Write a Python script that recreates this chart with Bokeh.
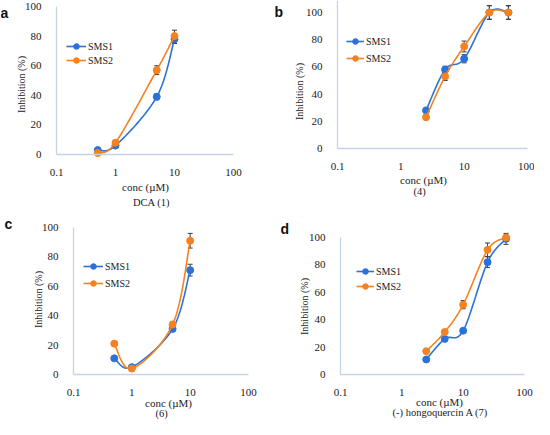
import numpy as np
from bokeh.plotting import figure
from bokeh.layouts import gridplot
from bokeh.models import (Range1d, FixedTicker, CustomJSTickFormatter, Label, Legend, LegendItem,
                          Whisker, TeeHead, ColumnDataSource)
from bokeh.embed import file_html
from bokeh.resources import INLINE

# ---------------- data ----------------
conc_a = [0.5, 1, 5, 10]
sms1_a = [3, 6, 39, 78]
sms2_a = [1, 8, 57, 80]
err1_a = [0.5, 0.8, 2, 3]
err2_a = [0.5, 1, 3, 4]

conc_b = [2.5, 5, 10, 25, 50]
sms1_b = [28, 58, 66, 100, 100]
sms2_b = [23, 53, 75, 100, 100]
err1_b = [1.5, 2.5, 3, 5, 5]
err2_b = [1, 3, 4, 5, 5]

conc_c = [0.5, 1, 5, 10]
sms1_c = [11, 5, 31, 71]
sms2_c = [21, 4, 34, 91]
err1_c = [1, 1, 1, 4]
err2_c = [1, 1, 1.5, 5]

conc_d = [2.5, 5, 10, 25, 50]
sms1_d = [11, 26, 32, 82, 99]
sms2_d = [17, 31, 51, 91, 100]
err1_d = [1, 1, 1, 4, 4]
err2_d = [1, 1, 3, 5, 1]

x_ticks = [0.1, 1, 10, 100]
y_ticks = [0, 20, 40, 60, 80, 100]
series_names = ["SMS1", "SMS2"]
panel_letters = ["a", "b", "c", "d"]
compound_labels = ["DCA (1)", "(4)", "(6)", "(-) hongoquercin A (7)"]

BLUE = "#2a72d8"
ORANGE = "#f58220"
AXIS = "#c5d3e6"
ERR = "#3a3f48"
TXT = "#1a1a1a"
SERIF = "Liberation Serif"


def smooth(xs, ys, su, sv, n=24):
    """Excel-like smoothed line (Catmull-Rom Bezier) computed in screen-like space."""
    u = np.log10(np.array(xs, float)) * su
    v = np.array(ys, float) * sv
    pts = np.column_stack([u, v])
    out = []
    m = len(pts)
    for i in range(m - 1):
        p0 = pts[i - 1] if i > 0 else pts[i]
        p1 = pts[i]
        p2 = pts[i + 1]
        p3 = pts[i + 2] if i + 2 < m else pts[i + 1]
        c1 = p1 + (p2 - p0) / 6.0
        c2 = p2 - (p3 - p1) / 6.0
        t = np.linspace(0, 1, n)[:, None]
        seg = ((1 - t) ** 3) * p1 + 3 * ((1 - t) ** 2) * t * c1 + 3 * (1 - t) * t ** 2 * c2 + t ** 3 * p2
        if i > 0:
            seg = seg[1:]
        out.append(seg)
    arr = np.vstack(out)
    return list(10 ** (arr[:, 0] / su)), list(arr[:, 1] / sv)


def make_panel(cfg, conc, s1, s2, e1, e2, letter, compound):
    W, H = cfg["W"], cfg["H"]
    dx, dy = cfg["dx"], cfg["dy"]
    axL, axT, axR, axB = cfg["axes"]          # reference px of x=0.1, y=100, x=100, y=0
    axL += dx; axR += dx; axT += dy; axB += dy
    dec = (axR - axL) / 3.0                    # px per decade
    ppu = (axB - axT) / 100.0                  # px per y unit
    x0 = 10 ** (-1 - axL / dec)
    x1 = 10 ** (-1 + (W - axL) / dec)
    y0 = -(H - axB) / ppu
    y1 = axB / ppu
    p = figure(width=W, height=H, x_axis_type="log", output_backend="svg", toolbar_location=None,
               x_range=Range1d(x0, x1), y_range=Range1d(y0, y1),
               min_border_left=0, min_border_right=0, min_border_top=0, min_border_bottom=0)
    p.outline_line_color = None
    p.grid.visible = False
    p.background_fill_color = "white"
    p.xaxis.fixed_location = 0
    p.yaxis.fixed_location = 0.1
    p.xaxis.bounds = (0.1, 100)
    p.yaxis.bounds = (0, cfg["ytop"])
    for ax in (p.xaxis[0], p.yaxis[0]):
        ax.axis_line_color = AXIS
        ax.axis_line_width = 1.3
        ax.major_tick_line_color = None
        ax.minor_tick_line_color = None
        ax.major_label_text_font = SERIF
        ax.major_label_text_font_size = "11px"
        ax.major_label_text_color = TXT
    p.xaxis.ticker = FixedTicker(ticks=x_ticks)
    p.xaxis.formatter = CustomJSTickFormatter(code="return String(tick);")
    p.xaxis.major_label_standoff = 8
    p.yaxis.ticker = FixedTicker(ticks=y_ticks)
    p.yaxis.major_label_standoff = 9

    def to_data(rx, ry):
        lx, ly = rx + dx, ry + dy
        return 10 ** (-1 + (lx - axL) / dec), (axB - ly) / ppu

    renderers = []
    for ys, es, col in ((s1, e1, BLUE), (s2, e2, ORANGE)):
        sx, sy = smooth(conc, ys, dec, ppu)
        lr = p.line(sx, sy, line_color=col, line_width=1.6)
        sr = p.scatter(conc, ys, size=7, fill_color=col, line_color=col, marker="circle")
        src = ColumnDataSource(dict(x=conc, lo=[a - b for a, b in zip(ys, es)], hi=[a + b for a, b in zip(ys, es)]))
        w = Whisker(base="x", lower="lo", upper="hi", source=src, line_color=ERR, line_width=1,
                    upper_head=TeeHead(size=5, line_color=ERR, line_width=1),
                    lower_head=TeeHead(size=5, line_color=ERR, line_width=1))
        p.add_layout(w)
        renderers.append((lr, sr))

    gl, gbot, gw, gsp = cfg["legend"]   # glyph left (ref px), legend bottom (ref px), glyph width, spacing
    legend = Legend(items=[LegendItem(label=series_names[i], renderers=list(renderers[i])) for i in range(2)],
                    location=(gl + dx, H - (gbot + dy)), padding=0, margin=0, spacing=gsp,
                    glyph_width=gw, glyph_height=14, label_height=14, label_standoff=2,
                    border_line_color=None, background_fill_alpha=0,
                    label_text_font=SERIF, label_text_font_size="10px", label_text_color=TXT)
    p.add_layout(legend)

    lx, ly = to_data(*cfg["letter"])
    p.add_layout(Label(x=lx, y=ly, text=letter, text_font="Liberation Sans", text_font_style="bold",
                       text_font_size="14px", text_align="left", text_baseline="middle", text_color="#111111"))
    yx, yy = to_data(*cfg["ylabel"])
    p.add_layout(Label(x=yx, y=yy, text="Inhibition (%)", angle=np.pi / 2, text_font=SERIF,
                       text_font_size="10px", text_align="center", text_baseline="middle", text_color=TXT))
    cx, cy = to_data(*cfg["xlabel"])
    p.add_layout(Label(x=cx, y=cy, text="conc (\u00b5M)", text_font=SERIF,
                       text_font_size="11px", text_align="center", text_baseline="middle", text_color=TXT))
    kx, ky = to_data(*cfg["compound"])
    p.add_layout(Label(x=kx, y=ky, text=compound, text_font=SERIF,
                       text_font_size="10.5px", text_align="center", text_baseline="middle", text_color=TXT))
    return p


# layout configs, in reference pixels; dx/dy shift into each figure's own space
cfg_a = dict(W=267, H=209, dx=-4, dy=-4, axes=(60, 10, 237, 158), ytop=100,
             legend=(70, 71, 20, 0), letter=(4, 16), ylabel=(25, 88), xlabel=(149, 190), compound=(155, 206))
cfg_b = dict(W=267, H=209, dx=-278, dy=-4, axes=(348, 16, 538, 152), ytop=110,
             legend=(357, 69, 18, 3), letter=(285, 15), ylabel=(310, 95), xlabel=(434, 183), compound=(430, 195))
cfg_c = dict(W=267, H=210, dx=-4, dy=-221, axes=(77, 239, 252, 386), ytop=100,
             legend=(87, 302, 20, 3), letter=(8, 235), ylabel=(42, 311), xlabel=(172, 414), compound=(165, 425))
cfg_d = dict(W=267, H=210, dx=-278, dy=-221, axes=(351, 249, 535, 386), ytop=100,
             legend=(367, 305, 18, 1), letter=(291, 240), ylabel=(315, 318), xlabel=(450, 413), compound=(451, 424))

pa = make_panel(cfg_a, conc_a, sms1_a, sms2_a, err1_a, err2_a, panel_letters[0], compound_labels[0])
pb = make_panel(cfg_b, conc_b, sms1_b, sms2_b, err1_b, err2_b, panel_letters[1], compound_labels[1])
pc = make_panel(cfg_c, conc_c, sms1_c, sms2_c, err1_c, err2_c, panel_letters[2], compound_labels[2])
pd = make_panel(cfg_d, conc_d, sms1_d, sms2_d, err1_d, err2_d, panel_letters[3], compound_labels[3])

grid = gridplot([[pa, pb], [pc, pd]], toolbar_location=None)
open("out.html", "w").write(file_html(grid, INLINE))
